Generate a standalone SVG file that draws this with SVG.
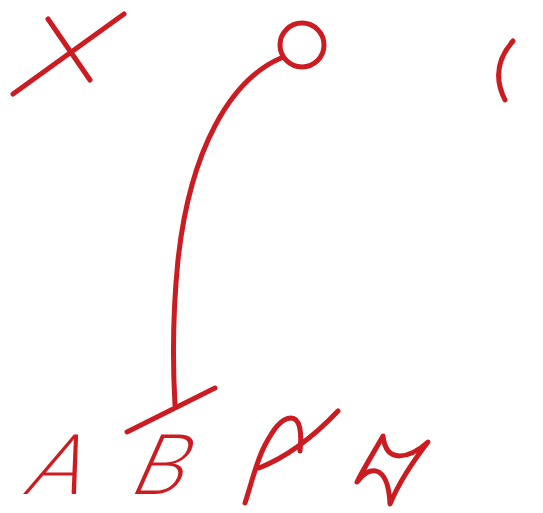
<svg xmlns="http://www.w3.org/2000/svg" width="543" height="513" viewBox="0 0 543 513">
<style>
.s{fill:none;stroke:#cc1c22;stroke-width:5;stroke-linecap:round;stroke-linejoin:round}
.t{fill:#cc1c22;font-family:Lato,"Open Sans","Liberation Sans",sans-serif;font-weight:300;font-size:84px}
</style>
<rect width="543" height="513" fill="#fff"/>
<g id="cross"><path class="s" d="M13,94 L124,14 M48,19 L90,80"/></g>
<g id="circle"><circle class="s" cx="302" cy="45" r="22"/></g>
<g id="arc"><path class="s" d="M513,41 Q489,68 505,100"/></g>
<g id="tee"><path class="s" d="M127,432 L215,388"/></g>
<g id="connectors"><path class="s" d="M281,58 C230,80 190,150 178,260 C172,320 173,370 175,405"/></g>
<g id="labelA"><text class="t" transform="translate(22,494) skewX(-24)">A</text></g>
<g id="labelB"><text class="t" transform="translate(126,494) skewX(-24)">B</text></g>
<g id="rho"><path class="s" d="M245,503 C252,482 256,462 265,445 C273,430 281,418 291,418 C300,418 302,432 300,451 M259,468 C292,455 318,432 338,411"/></g>
<g id="star"><path class="s" d="M383,436 C374,452 364,468 357,482 C368,466 388,462 390,504 C400,480 414,460 428,442 C410,458 386,465 383,436 Z"/></g>
</svg>
